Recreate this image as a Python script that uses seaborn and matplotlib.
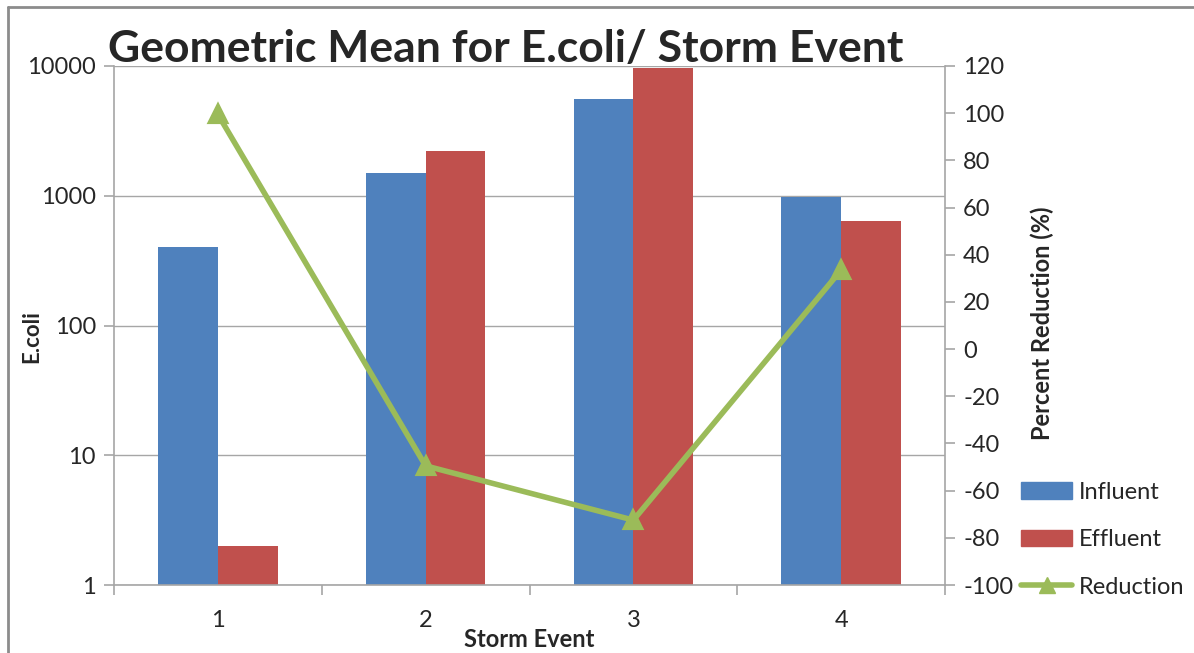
import pandas as pd
import matplotlib.pyplot as plt
import seaborn as sns
from matplotlib.lines import Line2D
from matplotlib.patches import Patch

# data
events = ['1', '2', '3', '4']
influent = [400, 1500, 5600, 970]
effluent = [2, 2200, 9650, 640]
reduction = [99.5, -49.5, -72.5, 33.5]

blue = '#4F81BD'
red = '#C0504D'
green = '#9BBB59'
grey = '#A6A6A6'

sns.set_style('white')
plt.rcParams['font.family'] = ['Lato', 'DejaVu Sans']
plt.rcParams['axes.unicode_minus'] = False

df = pd.DataFrame({'event': events * 2,
                   'value': influent + effluent,
                   'series': ['Influent'] * 4 + ['Effluent'] * 4})
red_df = pd.DataFrame({'event': events, 'reduction': reduction})

fig = plt.figure(figsize=(11.94, 6.53), dpi=100)
ax = fig.add_axes([114 / 1194, 1 - 585 / 653, 831 / 1194, 519 / 653])

sns.barplot(data=df, x='event', y='value', hue='series',
            palette=[blue, red], width=0.575, saturation=1,
            linewidth=0, ax=ax, legend=False)
ax.set_yscale('log', nonpositive='clip')
ax.set_ylim(1, 10000)
ax.set_xlim(-0.5, 3.5)
ax.set_yticks([1, 10, 100, 1000, 10000])
ax.set_yticklabels(['1', '10', '100', '1000', '10000'])
ax.minorticks_off()
ax.yaxis.grid(True, color=grey, linewidth=1.0)
ax.set_axisbelow(True)
ax.set_xlabel('Storm Event', fontsize=17, fontweight='bold')
ax.set_ylabel('E.coli', fontsize=16, fontweight='bold')
ax.xaxis.set_label_coords(0.5, -0.082)
ax.yaxis.set_label_coords(-0.086, 0.478)

# category boundary ticks on x axis
ax.set_xticks([0, 1, 2, 3])
ax.set_xticklabels(events)
ax.set_xticks([-0.5, 0.5, 1.5, 2.5, 3.5], minor=True)
ax.tick_params(axis='x', which='major', length=0, labelsize=17, pad=18)
ax.tick_params(axis='x', which='minor', length=7, color=grey, width=1.2,
               bottom=True)
ax.tick_params(axis='y', length=7, color=grey, width=1.2, labelsize=17,
               direction='out', left=True, pad=6)

for s in ['top', 'right']:
    ax.spines[s].set_visible(False)
for s in ['left', 'bottom']:
    ax.spines[s].set_color(grey)
    ax.spines[s].set_linewidth(1.2)

ax2 = ax.twinx()
sns.pointplot(data=red_df, x='event', y='reduction', color=green,
              markers='^', markersize=12, linewidth=4, ax=ax2)
ax2.set_ylim(-100, 120)
ax2.set_yticks(range(-100, 121, 20))
ax2.set_xlim(-0.5, 3.5)
ax2.set_xlabel('')
ax2.set_ylabel('Percent Reduction (%)', fontsize=17, fontweight='bold')
ax2.yaxis.set_label_coords(1.1035, 0.505)
ax2.tick_params(axis='y', length=7, color=grey, width=1.2, labelsize=17,
                direction='out', right=True, pad=6)
for s in ['top', 'left', 'bottom']:
    ax2.spines[s].set_visible(False)
ax2.spines['right'].set_color(grey)
ax2.spines['right'].set_linewidth(1.2)

handles = [Patch(color=blue, label='Influent'),
           Patch(color=red, label='Effluent'),
           Line2D([], [], color=green, linewidth=4, marker='^',
                  markersize=12, label='Reduction')]
fig.legend(handles=handles, loc='lower left',
           bbox_to_anchor=(1012 / 1194, 1 - 607 / 653), frameon=False,
           borderaxespad=0, fontsize=17, handlelength=2.15,
           labelspacing=1.12, handletextpad=0.3)

fig.text(108 / 1194, 1 - 62 / 653, 'Geometric Mean for E.coli/ Storm Event',
         fontsize=32, fontweight='bold', ha='left', va='baseline')

# screenshot frame edges
fig.add_artist(Line2D([8 / 1194, 8 / 1194], [0, 1 - 7 / 653],
                      color='#8C8C8C', linewidth=2))
fig.add_artist(Line2D([8 / 1194, 1], [1 - 7 / 653, 1 - 7 / 653],
                      color='#8C8C8C', linewidth=2))

fig.savefig('out.png', dpi=100)
